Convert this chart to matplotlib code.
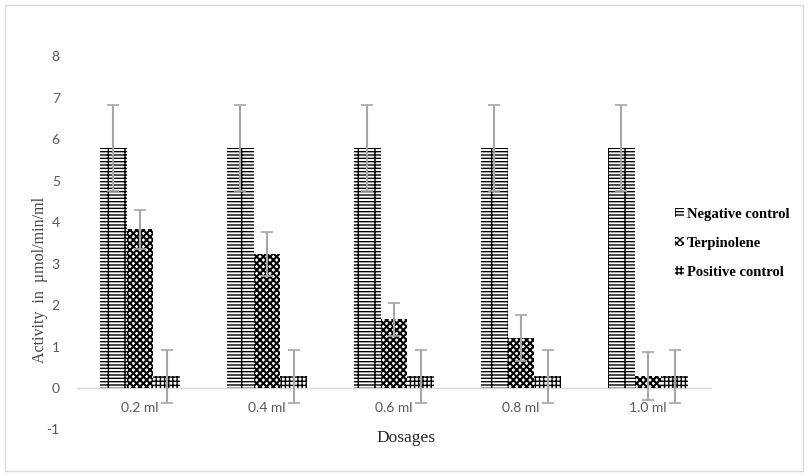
import numpy as np
import matplotlib.pyplot as plt
from matplotlib.patches import Rectangle

dosages = ["0.2 ml", "0.4 ml", "0.6 ml", "0.8 ml", "1.0 ml"]
negative_control = [5.78, 5.78, 5.78, 5.78, 5.78]
negative_err = [1.03, 1.03, 1.03, 1.03, 1.03]
terpinolene = [3.82, 3.22, 1.66, 1.21, 0.28]
terpinolene_err = [0.48, 0.53, 0.40, 0.55, 0.58]
positive_control = [0.28, 0.28, 0.28, 0.28, 0.28]
positive_err = [0.63, 0.63, 0.63, 0.63, 0.63]

plt.rcParams['axes.unicode_minus'] = False

fig = plt.figure(figsize=(8.08, 4.75), dpi=100)
ax = fig.add_axes([0.0947, 0.0958, 0.7859, 0.7862])

x = np.arange(len(dosages))
w = 0.21
err_kw = dict(ecolor="#a6a6a6", elinewidth=1.5, capsize=4, capthick=1.2)

plt.rcParams['hatch.linewidth'] = 1.0
ax.bar(x - w, negative_control, w, yerr=negative_err, color="white",
       edgecolor="black", hatch="-----|", linewidth=0, error_kw=err_kw,
       label="Negative control")
plt.rcParams['hatch.linewidth'] = 1.5
ax.bar(x, terpinolene, w, yerr=terpinolene_err, color="white",
       edgecolor="black", hatch="xxxxx", linewidth=0, error_kw=err_kw,
       label="Terpinolene")
plt.rcParams['hatch.linewidth'] = 1.0
ax.bar(x + w, positive_control, w, yerr=positive_err, color="white",
       edgecolor="black", hatch="++++", linewidth=0, error_kw=err_kw,
       label="Positive control")

ax.set_xlim(-0.5, 4.5)
ax.set_ylim(-1, 8)
ax.set_yticks(range(-1, 9))
ax.set_xticks(x)
ax.set_xticklabels(dosages)
for s in ax.spines.values():
    s.set_visible(False)
ax.spines["bottom"].set_position(("data", 0))
ax.axhline(0, color="#d9d9d9", linewidth=1, zorder=0)
ax.tick_params(length=0, labelsize=10, labelcolor="#595959")
ax.tick_params(axis="y", pad=12)
ax.tick_params(axis="x", pad=10)
for lab in ax.get_xticklabels() + ax.get_yticklabels():
    lab.set_family("Lato")

fig.text(0.503, 0.078, "Dosages", family="Liberation Serif", fontsize=12.5,
         ha="center", va="center", color="#262626")
fig.text(0.05, 0.41, "Activity  in  \u00b5mol/min/ml", family="Liberation Serif",
         fontsize=11.5, rotation=90, ha="center", va="center", color="#404040")

leg = ax.legend(loc="upper left", bbox_to_anchor=(0.828, 0.575),
                bbox_transform=fig.transFigure, frameon=False,
                prop={"family": "Liberation Serif", "weight": "bold", "size": 10.5},
                handlelength=0.6, handleheight=0.6, handletextpad=0.2,
                labelspacing=1.1, borderaxespad=0)

fig.patches.append(Rectangle((0.006, 0.008), 0.988, 0.982, transform=fig.transFigure,
                             fill=False, edgecolor="#d9d9d9", linewidth=1))

fig.savefig("out.png", dpi=100)
